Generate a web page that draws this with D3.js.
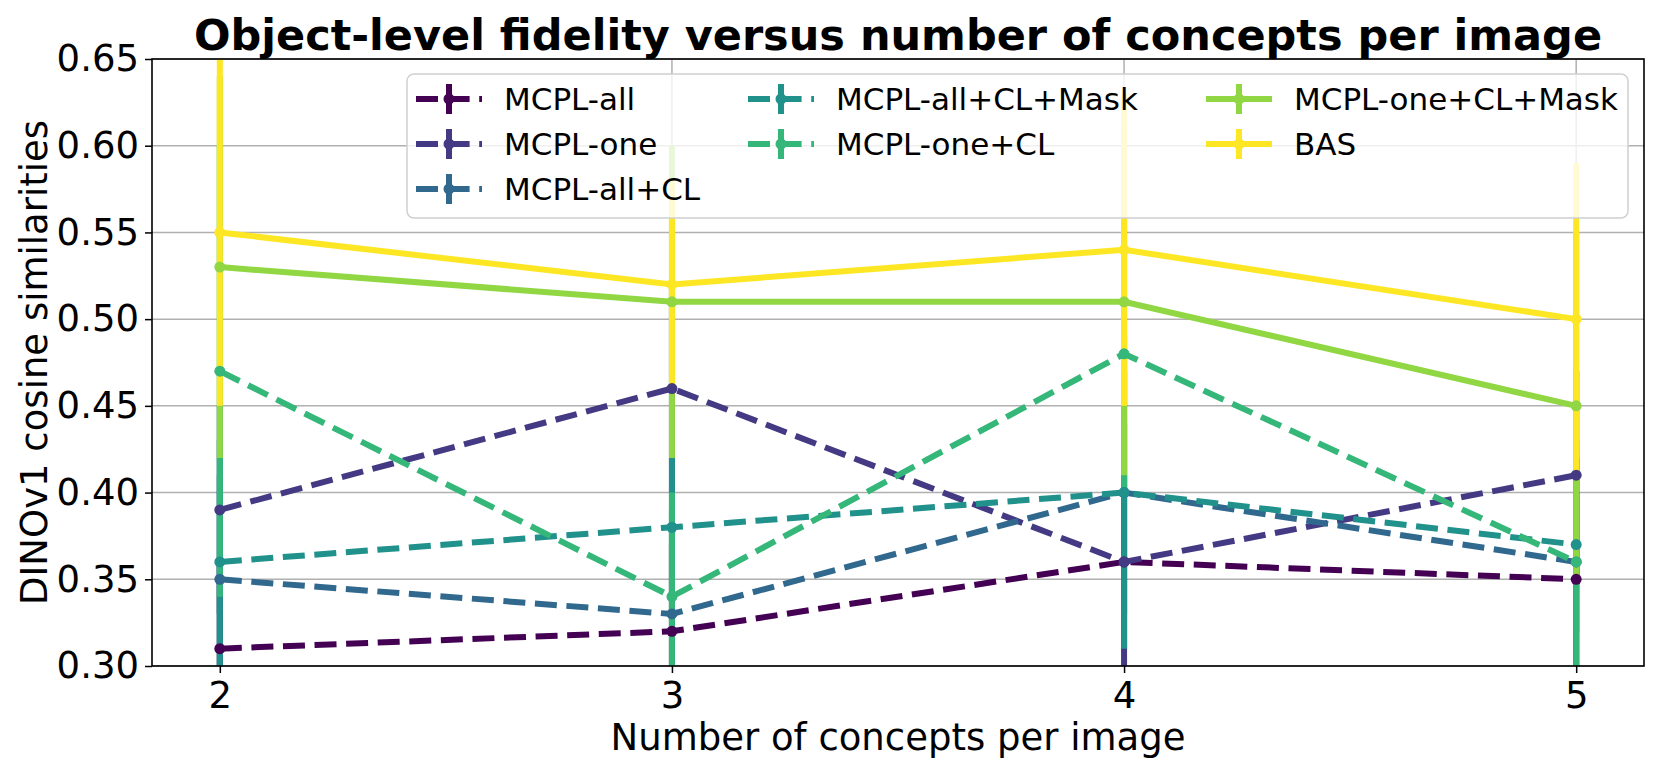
<!DOCTYPE html>
<html><head><meta charset="utf-8">
<script src="https://cdn.jsdelivr.net/npm/d3@7"></script>
<style>body{margin:0;background:#fff}text{font-family:"DejaVu Sans",sans-serif}</style>
</head><body><svg id="c" width="1661" height="775"></svg>
<script>
const xValues = [2, 3, 4, 5];
const seriesNames = ["MCPL-all", "MCPL-one", "MCPL-all+CL", "MCPL-all+CL+Mask", "MCPL-one+CL", "MCPL-one+CL+Mask", "BAS"];
const seriesColors = ["#440154", "#443983", "#31688e", "#21918c", "#35b779", "#90d743", "#fde725"];
const seriesDashed = [true, true, true, true, true, false, false];
const mcplAll = [0.31, 0.32, 0.36, 0.35];
const mcplOne = [0.39, 0.46, 0.36, 0.41];
const mcplAllCL = [0.35, 0.33, 0.40, 0.36];
const mcplAllCLMask = [0.36, 0.38, 0.40, 0.37];
const mcplOneCL = [0.47, 0.34, 0.48, 0.36];
const mcplOneCLMask = [0.53, 0.51, 0.51, 0.45];
const bas = [0.55, 0.52, 0.54, 0.50];
const errAll = [0.05, 0.05, 0.05, 0.05];
const errOne = [0.06, 0.06, 0.08, 0.06];
const errAllCL = [0.06, 0.06, 0.07, 0.06];
const errAllCLMask = [0.07, 0.04, 0.09, 0.05];
const errOneCL = [0.13, 0.06, 0.08, 0.07];
const errOneCLMask = [0.11, 0.09, 0.10, 0.10];
const errBAS = [0.10, 0.06, 0.09, 0.09];
const yTicks = [0.30, 0.35, 0.40, 0.45, 0.50, 0.55, 0.60, 0.65];

const means = [mcplAll, mcplOne, mcplAllCL, mcplAllCLMask, mcplOneCL, mcplOneCLMask, bas];
const errs = [errAll, errOne, errAllCL, errAllCLMask, errOneCL, errOneCLMask, errBAS];
const series = seriesNames.map((n, i) => ({
  name: n, color: seriesColors[i], dashed: seriesDashed[i],
  pts: xValues.map((x, j) => ({x, y: means[i][j], e: errs[i][j]}))
}));

const L = 152, R = 1644, T = 59, B = 666;
const svg = d3.select("#c");
const x = d3.scaleLinear().domain([1.85, 5.15]).range([L, R]);
const y = d3.scaleLinear().domain([0.30, 0.65]).range([B, T]);

svg.append("defs").append("clipPath").attr("id", "clip")
  .append("rect").attr("x", L).attr("y", T).attr("width", R - L).attr("height", B - T);

// grid
const g = svg.append("g");
g.selectAll(".gx").data(xValues).join("line")
  .attr("x1", d => x(d)).attr("x2", d => x(d)).attr("y1", T).attr("y2", B)
  .attr("stroke", "#b0b0b0").attr("stroke-width", 1.5);
g.selectAll(".gy").data(yTicks).join("line")
  .attr("y1", d => y(d)).attr("y2", d => y(d)).attr("x1", L).attr("x2", R)
  .attr("stroke", "#b0b0b0").attr("stroke-width", 1.5);

const plot = svg.append("g").attr("clip-path", "url(#clip)");
const LW = 6;
const DASH = "22,9.6";
// error bars first (drawn beneath all data lines)
series.forEach(s => {
  plot.append("g").selectAll("line").data(s.pts).join("line")
    .attr("x1", d => x(d.x)).attr("x2", d => x(d.x))
    .attr("y1", d => y(d.y - d.e)).attr("y2", d => y(d.y + d.e))
    .attr("stroke", s.color).attr("stroke-width", LW);
});
const line = d3.line().x(d => x(d.x)).y(d => y(d.y));
series.forEach(s => {
  plot.append("path").datum(s.pts).attr("d", line)
    .attr("fill", "none").attr("stroke", s.color).attr("stroke-width", LW)
    .attr("stroke-dasharray", s.dashed ? DASH : null);
  plot.append("g").selectAll("circle").data(s.pts).join("circle")
    .attr("cx", d => x(d.x)).attr("cy", d => y(d.y)).attr("r", 5.5).attr("fill", s.color);
});

// axes
const xa = svg.append("g").attr("transform", `translate(0,${B})`)
  .call(d3.axisBottom(x).tickValues(xValues).tickFormat(d3.format("d")).tickSize(7).tickPadding(7).tickSizeOuter(0));
const ya = svg.append("g").attr("transform", `translate(${L},0)`)
  .call(d3.axisLeft(y).tickValues(yTicks).tickFormat(d3.format(".2f")).tickSize(7).tickPadding(6).tickSizeOuter(0));
[xa, ya].forEach(a => {
  a.select(".domain").remove();
  a.selectAll("line").attr("stroke", "#000").attr("stroke-width", 1.5);
  a.selectAll("text").attr("font-size", 37).attr("fill", "#000").attr("font-family", "DejaVu Sans");
});
xa.selectAll("text").attr("dy", "0.76em");
svg.append("rect").attr("x", L).attr("y", T).attr("width", R - L).attr("height", B - T)
  .attr("fill", "none").attr("stroke", "#000").attr("stroke-width", 1.6);

svg.append("text").attr("x", (L + R) / 2).attr("y", 50).attr("text-anchor", "middle")
  .attr("font-size", 43).attr("font-weight", "bold").text("Object-level fidelity versus number of concepts per image");
svg.append("text").attr("x", (L + R) / 2).attr("y", 750).attr("text-anchor", "middle")
  .attr("font-size", 37).text("Number of concepts per image");
svg.append("text").attr("transform", `translate(47,${(T + B) / 2}) rotate(-90)`).attr("text-anchor", "middle")
  .attr("font-size", 37).text("DINOv1 cosine similarities");

// legend
const lg = svg.append("g");
const LX = 407, LY = 74, LWd = 1221, LH = 144;
lg.append("rect").attr("x", LX).attr("y", LY).attr("width", LWd).attr("height", LH).attr("rx", 7)
  .attr("fill", "#fff").attr("fill-opacity", 0.8).attr("stroke", "#d0d0d0").attr("stroke-width", 1.5);
const colX = [416, 748, 1206];
const rowY = [99, 144, 189];
const layout = [[0, 0], [0, 1], [0, 2], [1, 0], [1, 1], [2, 0], [2, 1]];
const HL = 66;
series.forEach((s, i) => {
  const [c, r] = layout[i];
  const hx = colX[c], hy = rowY[r];
  const item = lg.append("g");
  item.append("line").attr("x1", hx).attr("x2", hx + HL).attr("y1", hy).attr("y2", hy)
    .attr("stroke", s.color).attr("stroke-width", LW).attr("stroke-dasharray", s.dashed ? DASH : null);
  item.append("line").attr("x1", hx + HL / 2).attr("x2", hx + HL / 2).attr("y1", hy - 15).attr("y2", hy + 15)
    .attr("stroke", s.color).attr("stroke-width", LW);
  item.append("circle").attr("cx", hx + HL / 2).attr("cy", hy).attr("r", 5.5).attr("fill", s.color);
  item.append("text").attr("x", hx + 88).attr("y", hy).attr("dy", "0.36em")
    .attr("font-size", 31).text(s.name);
});
</script></body></html>
